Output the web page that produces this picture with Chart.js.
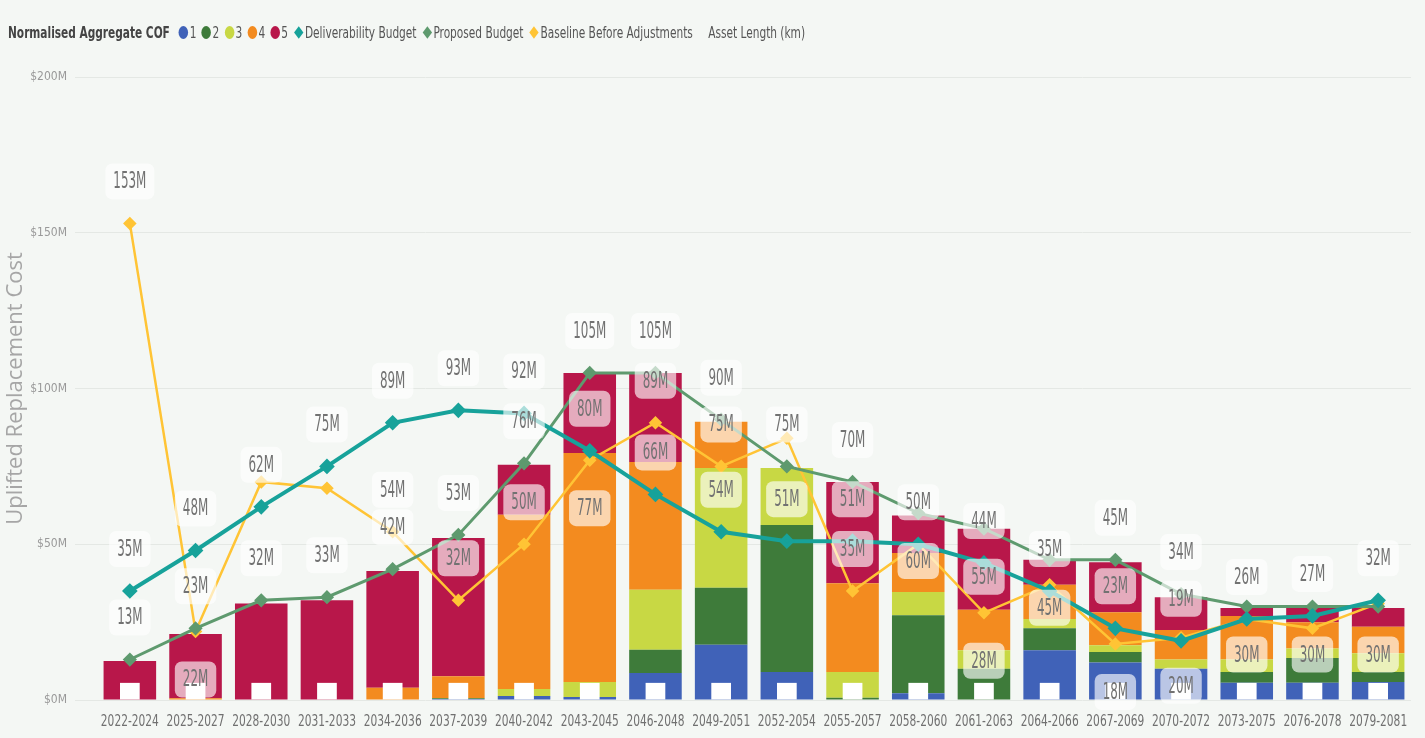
<!DOCTYPE html>
<html>
<head>
<meta charset="utf-8">
<script src="https://cdn.jsdelivr.net/npm/chart.js@4.4.1/dist/chart.umd.min.js"></script>
<style>
html, body { margin: 0; padding: 0; background: #f4f7f4; }
#wrap { position: relative; width: 1425px; height: 738px; }
#legend {
	position: absolute; left: 8px; top: 22px; height: 20px;
	font-family: 'Liberation Sans Narrow', 'DejaVu Sans Condensed', sans-serif;
	font-size: 16px; color: #555; white-space: nowrap;
	display: flex; align-items: center; transform-origin: left center;
}
#legend .title { font-weight: bold; color: #444; margin-right: 12px; }
#legend .item { display: inline-flex; align-items: center; margin-right: 7px; }
#legend .dot { width: 13px; height: 13px; border-radius: 50%; margin-right: 2px; }
#legend .dia { width: 9px; height: 9px; transform: rotate(45deg); margin: 0 4px 0 3px; }
</style>
</head>
<body>
<div id="wrap">
	<div id="legend"></div>
	<canvas id="chart" width="1425" height="738"></canvas>
</div>
<script>
var categories = ['2022-2024', '2025-2027', '2028-2030', '2031-2033', '2034-2036', '2037-2039', '2040-2042',
	'2043-2045', '2046-2048', '2049-2051', '2052-2054', '2055-2057', '2058-2060', '2061-2063', '2064-2066',
	'2067-2069', '2070-2072', '2073-2075', '2076-2078', '2079-2081'];

// Normalised Aggregate COF 1..5 ($M)
var cof1 = [0, 0, 0, 0, 0, 0.3, 1.3, 1, 8.7, 17.7, 9, 0, 2.2, 0, 16, 12, 10, 5.5, 5.5, 5.8];
var cof2 = [0, 0, 0, 0, 0, 0.3, 0, 0, 7.4, 18.3, 47.2, 0.7, 25, 10, 7, 3.4, 0, 3.5, 8, 3.2];
var cof3 = [0, 0, 0, 0, 0, 0, 2.2, 4.8, 19.3, 38.5, 18.3, 8.3, 7.5, 6, 3, 2.2, 3, 4, 3, 6];
var cof4 = [0, 0.6, 0, 0, 3.9, 7, 56, 73.5, 41, 14.8, 0, 28.5, 12.5, 13, 11, 10.6, 9.5, 14, 8.5, 8.5];
var cof5 = [12.5, 20.6, 31, 32, 37.5, 44.4, 16, 25.7, 28.6, 0, 0, 32.5, 12, 26, 8, 16, 10.5, 2.5, 4.5, 6];

var deliverabilityBudget = [35, 48, 62, 75, 89, 93, 92, 80, 66, 54, 51, 51, 50, 44, 35, 23, 19, 26, 27, 32];
var proposedBudget = [13, 23, 32, 33, 42, 53, 76, 105, 105, 90, 75, 70, 60, 55, 45, 45, 34, 30, 30, 30];
var baselineBeforeAdjustments = [153, 22, 70, 68, 54, 32, 50, 77, 89, 75, 84, 35, 50, 28, 37, 18, 20, 26, 23, 31];
var assetLength = [5.5, 5.5, 5.5, 5.5, 5.5, 5.5, 5.5, 5.5, 5.5, 5.5, 5.5, 5.5, 5.5, 5.5, 5.5, 5.5, 5.5, 5.5, 5.5, 5.5];

var yTickValues = [0, 50, 100, 150, 200];

var narrow = "'Liberation Sans Narrow', 'DejaVu Sans Condensed', sans-serif";

var cofColors = ['#4062b8', '#3e7b3a', '#c8d844', '#f38b1f', '#b8174a'];
var lineColors = { deliv: '#17a29a', proposed: '#5e9a6e', baseline: '#ffc435' };

function barSet(label, data, color) {
	return {
		type: 'bar', label: label, data: data, backgroundColor: color,
		stack: 'cof', order: 2, barPercentage: 0.8, categoryPercentage: 1
	};
}

function lineSet(label, data, color, width, stack) {
	return {
		type: 'line', label: label, data: data, borderColor: color, backgroundColor: color,
		borderWidth: width, pointStyle: 'rectRot', pointRadius: 5, pointHoverRadius: 5,
		stack: stack, order: 0, tension: 0, fill: false
	};
}

// condensed text: squeeze horizontally so that a sample string gets a wanted width
function squeeze(ctx, sample, wanted) {
	return wanted / ctx.measureText(sample).width;
}

// draws the Power BI style value boxes for the three lines
var lineLabels = {
	id: 'lineLabels',
	afterDatasetsDraw: function(chart) {
		var ctx = chart.ctx;
		var placed = [];
		var boxH = 36;
		ctx.save();
		ctx.font = '23px ' + narrow;
		var sx = squeeze(ctx, '153M', 33);

		chart.data.datasets.forEach(function(ds, di) {
			if (ds.type !== 'line') return;
			var meta = chart.getDatasetMeta(di);
			meta.data.forEach(function(pt, i) {
				var text = Math.round(ds.data[i]) + 'M';
				var w = ctx.measureText(text).width * sx + 16;
				var tries = [pt.y - 42, pt.y + 48];
				for (var t = 0; t < tries.length; t++) {
					var b = { x1: pt.x - w / 2, x2: pt.x + w / 2, y1: tries[t] - boxH / 2, y2: tries[t] + boxH / 2, text: text, x: pt.x, y: tries[t] };
					var hit = placed.some(function(p) {
						return b.x1 < p.x2 && b.x2 > p.x1 && b.y1 < p.y2 && b.y2 > p.y1;
					});
					if (!hit) { placed.push(b); break; }
				}
			});
		});

		placed.forEach(function(b) {
			ctx.fillStyle = 'rgba(255,255,255,0.64)';
			ctx.beginPath();
			ctx.roundRect(b.x1, b.y1, b.x2 - b.x1, b.y2 - b.y1, 7);
			ctx.fill();
		});
		ctx.fillStyle = '#727272';
		ctx.textAlign = 'center';
		ctx.textBaseline = 'middle';
		placed.forEach(function(b) {
			ctx.save();
			ctx.translate(b.x, b.y + 1);
			ctx.scale(sx, 1);
			ctx.fillText(b.text, 0, 0);
			ctx.restore();
		});
		ctx.restore();
	}
};

// category labels under the bars, condensed like the original
var xLabels = {
	id: 'xLabels',
	afterDraw: function(chart) {
		var ctx = chart.ctx;
		var x = chart.scales.x;
		ctx.save();
		ctx.font = '16px ' + narrow;
		var sx = squeeze(ctx, '2022-2024', 58);
		ctx.fillStyle = '#707070';
		ctx.textAlign = 'center';
		ctx.textBaseline = 'middle';
		categories.forEach(function(c, i) {
			ctx.save();
			ctx.translate(x.getPixelForValue(i), x.top + 22);
			ctx.scale(sx, 1);
			ctx.fillText(c, 0, 0);
			ctx.restore();
		});
		ctx.restore();
	}
};

var datasets = [
	lineSet('Deliverability Budget', deliverabilityBudget, lineColors.deliv, 4, 'd'),
	lineSet('Proposed Budget', proposedBudget, lineColors.proposed, 3, 'p'),
	lineSet('Baseline Before Adjustments', baselineBeforeAdjustments, lineColors.baseline, 2.5, 'b'),
	{
		type: 'bar', label: 'Asset Length (km)', data: assetLength, backgroundColor: '#ffffff',
		stack: 'km', order: 1, grouped: false, barPercentage: 0.3, categoryPercentage: 1
	},
	barSet('1', cof1, cofColors[0]),
	barSet('2', cof2, cofColors[1]),
	barSet('3', cof3, cofColors[2]),
	barSet('4', cof4, cofColors[3]),
	barSet('5', cof5, cofColors[4])
];

// html legend
var legend = document.getElementById('legend');
legend.innerHTML = '<span class="title">Normalised Aggregate COF</span>';
['1', '2', '3', '4', '5'].forEach(function(name, i) {
	legend.innerHTML += '<span class="item"><span class="dot" style="background:' + cofColors[i] + '"></span>' + name + '</span>';
});
[['Deliverability Budget', lineColors.deliv], ['Proposed Budget', lineColors.proposed],
	['Baseline Before Adjustments', lineColors.baseline]].forEach(function(l) {
	legend.innerHTML += '<span class="item"><span class="dia" style="background:' + l[1] + '"></span>' + l[0] + '</span>';
});
legend.innerHTML += '<span class="item" style="margin-left:14px">Asset Length (km)</span>';
legend.style.transform = 'scaleX(' + (802 / legend.scrollWidth) + ')';

var chart = new Chart(document.getElementById('chart'), {
	data: { labels: categories, datasets: datasets },
	options: {
		responsive: false,
		animation: false,
		layout: { padding: { top: 77, right: 14, left: 0, bottom: 0 } },
		plugins: { legend: { display: false }, tooltip: { enabled: false } },
		scales: {
			x: {
				stacked: true,
				grid: { display: false, drawTicks: false },
				border: { display: false },
				ticks: { display: false },
				afterFit: function(s) { s.height = 38; }
			},
			y: {
				stacked: true,
				min: 0,
				max: 200,
				afterBuildTicks: function(s) { s.ticks = yTickValues.map(function(v) { return { value: v }; }); },
				grid: { color: '#e4e8e4', tickLength: 22 },
				border: { display: false },
				ticks: {
					color: '#999', font: { family: narrow, size: 12 }, padding: 8,
					callback: function(v) { return '$' + v + 'M'; }
				},
				title: {
					display: true, text: 'Uplifted Replacement Cost', color: '#a6a6a6',
					font: { family: "'Open Sans', sans-serif", size: 22 }, padding: { top: 3, bottom: 0 }
				},
				afterFit: function(s) { s.width = 97; }
			}
		}
	},
	plugins: [lineLabels, xLabels]
});
</script>
</body>
</html>
